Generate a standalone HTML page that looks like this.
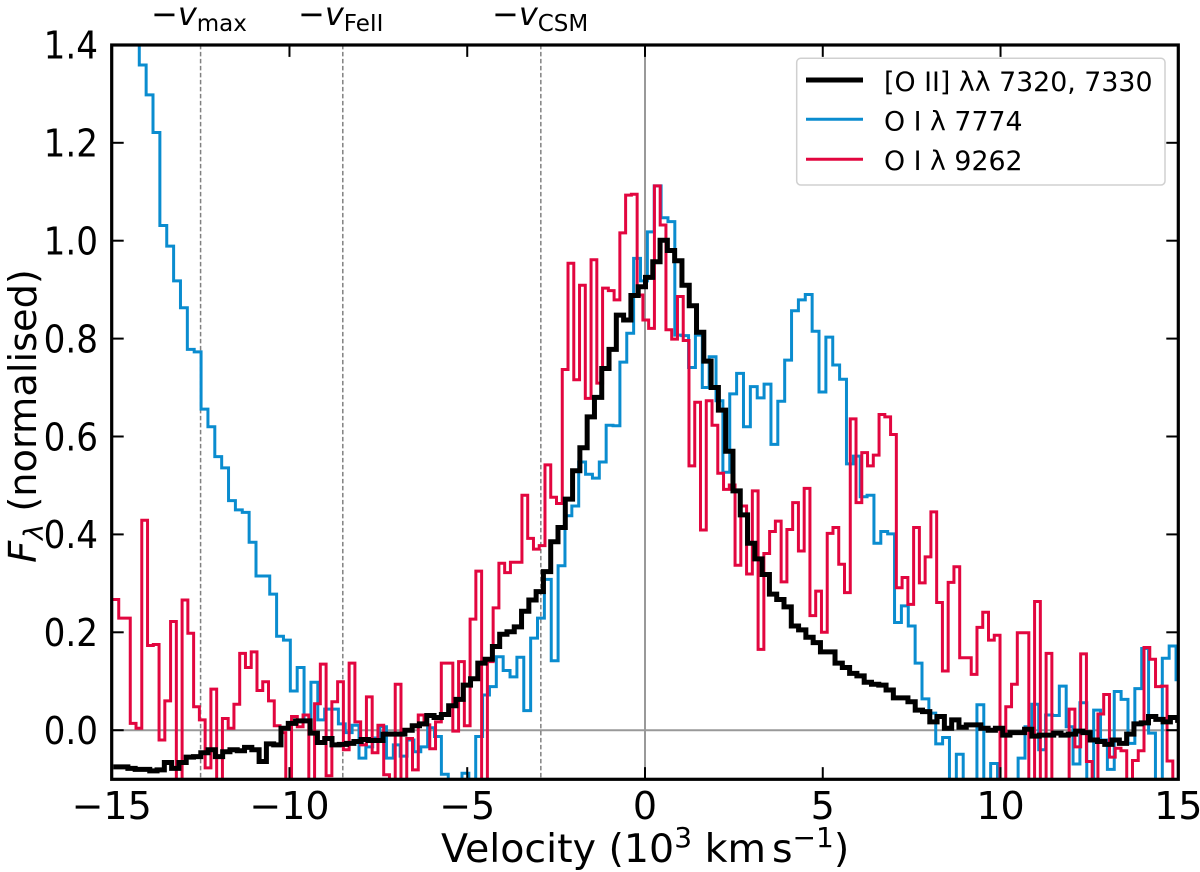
<!DOCTYPE html>
<html lang="en">
<head>
<meta charset="utf-8">
<title>Normalised oxygen line profiles</title>
<style>
html,body{margin:0;padding:0;background:#fff;}
svg{display:block;}
text{font-family:"DejaVu Sans","Liberation Sans",sans-serif;fill:#000;}
</style>
</head>
<body>
<svg id="chart" xmlns="http://www.w3.org/2000/svg" width="1200" height="872" viewBox="0 0 1200 872">
  <defs><clipPath id="plot-clip"><rect x="111.7" y="45" width="1066.6" height="734.3"/></clipPath></defs>
  <rect x="0" y="0" width="1200" height="872" fill="#fff"/>
  <g id="references" clip-path="url(#plot-clip)"></g>
  <g id="series" clip-path="url(#plot-clip)"></g>
  <g id="ticks"></g>
  <rect x="111.7" y="45" width="1066.6" height="734.3" fill="none" stroke="#000" stroke-width="3.2"/>
  <g id="tick-labels" font-size="38"></g>

  <text x="441" y="862" font-size="39.5">Velocity (10<tspan font-size="28" dy="-15">3</tspan><tspan dy="15"> km</tspan><tspan dx="6">s</tspan><tspan font-size="28" dy="-15">−1</tspan><tspan dy="15">)</tspan></text>
  <text transform="translate(36,416) rotate(-90)" text-anchor="middle" font-size="38.3"><tspan font-style="italic">F</tspan><tspan font-style="italic" font-size="27" dy="7" dx="1">λ</tspan><tspan dy="-7"> (normalised)</tspan></text>

  <text x="151" y="25" font-size="32">−<tspan font-style="italic">v</tspan><tspan font-size="23" dy="6">max</tspan></text>
  <text x="298" y="25" font-size="32">−<tspan font-style="italic">v</tspan><tspan font-size="23" dy="6">FeII</tspan></text>
  <text x="492" y="25" font-size="32">−<tspan font-style="italic">v</tspan><tspan font-size="23" dy="6">CSM</tspan></text>

  <g>
    <rect x="796.7" y="58.3" width="368.3" height="126.7" rx="4" ry="4" fill="#fff" fill-opacity="0.8" stroke="#d0d0d0" stroke-width="1.5"/>
    <line x1="806" x2="863" y1="80" y2="80" stroke="#000" stroke-width="5"/>
    <text x="884" y="91" font-size="26.8">[O II] λλ 7320, 7330</text>
    <line x1="806" x2="863" y1="119.3" y2="119.3" stroke="#0a8ccf" stroke-width="3"/>
    <text x="884" y="130.5" font-size="26.8">O I λ 7774</text>
    <line x1="806" x2="863" y1="159.3" y2="159.3" stroke="#e2063f" stroke-width="3"/>
    <text x="884" y="170" font-size="26.8">O I λ 9262</text>
  </g>
</svg>
<script>
const xTicks = [-15, -10, -5, 0, 5, 10, 15];
const xTickLabels = ['−15', '−10', '−5', '0', '5', '10', '15'];
const yTicks = [0, 0.2, 0.4, 0.6, 0.8, 1.0, 1.2, 1.4];
const yTickLabels = ['0.0', '0.2', '0.4', '0.6', '0.8', '1.0', '1.2', '1.4'];
const referenceVelocities = [-12.5, -8.5, -2.93];

const binStartBlack = -14.955;
const binWidthBlack = 0.20505;
const binStartBlue = -14.997;
const binWidthBlue = 0.19312;
const binStartRed = -14.964;
const binWidthRed = 0.16201;

const fluxOII = [
-.075,-.075,-.078,-.08,-.08,-.083,-.081,-.066,-.078,-.066,-.055,-.054,-.046,-.04,-.054,-.044,-.04,-.042,-.035,-.04,
-.064,-.028,-.03,.004,.014,.019,.019,-.006,-.025,-.017,-.03,-.029,-.027,-.023,-.019,-.021,-.021,-.008,-.008,-.008,
0,.009,.013,.03,.026,.032,.05,.063,.092,.105,.137,.145,.171,.196,.201,.211,.243,.266,.283,.324,
.385,.414,.472,.53,.577,.64,.68,.739,.778,.848,.838,.888,.906,.925,.957,1.001,.98,.959,.909,.867,
.813,.754,.70,.654,.57,.489,.44,.382,.35,.318,.278,.267,.252,.213,.205,.19,.179,.16,.16,.137,
.128,.116,.111,.098,.094,.092,.082,.066,.066,.058,.041,.038,.017,.028,.004,.021,.006,.011,.011,.004,
0,.004,-.01,-.005,-.005,.002,-.012,-.01,-.01,-.006,-.01,-.008,-.002,-.005,-.02,-.023,-.029,-.02,-.027,-.008,
.013,.015,.028,.022,.017,.026,.02
];

const fluxOI7774 = [
1.7,1.6,1.5,1.45,1.359,1.298,1.221,1.031,.989,.918,.863,.778,.773,.656,.62,.559,.536,.469,.45,.445,
.384,.315,.315,.278,.192,.184,.08,.128,.02,.098,.021,.043,.043,.013,-.005,.01,-.057,-.034,-.016,.007,
-.057,-.03,-.053,-.02,-.044,-.034,.005,-.013,-.09,-.12,-.12,-.088,-.12,-.013,.072,.089,.15,.122,.109,.149,
.04,.188,.229,.308,.142,.336,.438,.458,.548,.523,.515,.548,.623,.622,.752,.811,.964,.918,1.018,1.112,
1.047,1.039,.807,.806,.741,.807,.70,.763,.673,.527,.687,.729,.62,.702,.679,.707,.584,.672,.756,.857,
.879,.89,.815,.691,.803,.746,.717,.544,.56,.477,.48,.382,.406,.401,.22,.254,.213,.137,.064,.035,
-.028,-.015,-.12,-.049,-.12,-.12,.052,-.12,-.068,-.12,-.12,-.12,-.057,.007,.053,-.04,.031,.03,.09,.007,
-.069,.056,-.12,.041,-.02,-.08,.079,.063,-.027,.085,.167,-.006,-.12,.147,.172,.103
];

const fluxOI9262 = [
.267,.229,.229,.014,.004,.429,.173,.175,-.02,.06,.222,-.12,.266,.198,.048,.021,-.077,.084,-.12,.024,
.004,.053,.157,.128,.16,.081,.099,.06,.009,-.005,-.12,.028,.007,.031,-.12,.054,.135,-.093,.058,.099,
-.04,.137,.017,-.03,.068,-.046,.01,-.091,-.11,.094,-.12,-.017,-.081,.031,.011,-.038,.017,.137,.137,-.002,
.14,.009,.227,.325,-.12,.14,.25,.341,.322,.343,.343,.48,.392,.37,.377,.542,.476,.463,.737,.954,
.716,.909,.678,.961,.709,.903,.898,.879,1.016,1.093,1.095,.889,.838,.821,1.112,1.032,.818,.799,.886,.796,
.54,.67,.409,.673,.623,.525,.492,.501,.337,.458,.319,.489,.165,.361,.406,.427,.303,.41,.465,.366,
.494,.234,.284,.2,.402,.414,.339,.281,.636,.465,.567,.54,.562,.645,.64,.604,.291,.312,.257,.414,
.301,.354,.446,.261,.121,.302,.334,.148,.148,.114,.21,.241,.184,.194,-.12,.048,.094,.199,.199,-.12,
.263,-.12,.157,-.12,-.12,-.12,.043,-.034,.156,-.064,-.12,.033,.073,-.055,-.037,-.042,-.12,-.062,-.042,.169,
.145,.089,.09,-.063,-.12
];

const SVG_NS = 'http://www.w3.org/2000/svg';
function xScale(v) { return 645 + v * 35.553; }
function yScale(f) { return 730.2 - f * 489.5; }

function make(tag, attrs, parent) {
  const el = document.createElementNS(SVG_NS, tag);
  Object.keys(attrs).forEach(function (k) { el.setAttribute(k, attrs[k]); });
  parent.appendChild(el);
  return el;
}

function stepPath(values, start, width) {
  let d = '';
  values.forEach(function (val, i) {
    const x0 = xScale(start + i * width).toFixed(2);
    const x1 = xScale(start + (i + 1) * width).toFixed(2);
    const y = yScale(val).toFixed(2);
    d += (i === 0 ? 'M' : 'L') + x0 + ' ' + y + 'L' + x1 + ' ' + y;
  });
  return d;
}

const refGroup = document.getElementById('references');
const zeroH = make('line', {x1: xScale(-15), x2: xScale(15), y1: yScale(0), y2: yScale(0), stroke: '#999', 'stroke-width': 2}, refGroup);


const zeroV = make('line', {x1: xScale(0), x2: xScale(0), y1: yScale(1.4), y2: yScale(-0.1), stroke: '#999', 'stroke-width': 2}, refGroup);


referenceVelocities.forEach(function (v) {
  const l = make('line', {x1: xScale(v), x2: xScale(v), y1: yScale(1.4), y2: yScale(-0.1), stroke: '#808080', 'stroke-width': 1.5, 'stroke-dasharray': '4.5 2.5'}, refGroup);
  
  
});

const seriesGroup = document.getElementById('series');
const pathBlue = make('path', {d: stepPath(fluxOI7774, binStartBlue, binWidthBlue), fill: 'none', stroke: '#0a8ccf', 'stroke-width': 3, 'stroke-linejoin': 'miter'}, seriesGroup);


const pathRed = make('path', {d: stepPath(fluxOI9262, binStartRed, binWidthRed), fill: 'none', stroke: '#e2063f', 'stroke-width': 3, 'stroke-linejoin': 'miter'}, seriesGroup);


const pathBlack = make('path', {d: stepPath(fluxOII, binStartBlack, binWidthBlack), fill: 'none', stroke: '#000', 'stroke-width': 5, 'stroke-linejoin': 'miter'}, seriesGroup);



const tickGroup = document.getElementById('ticks');
const labelGroup = document.getElementById('tick-labels');
const tickLen = 12;
const yTop = yScale(1.4), yBottom = yScale(-0.1), xLeft = xScale(-15), xRight = xScale(15);

xTicks.forEach(function (v, i) {
  const x = xScale(v);
  const t1 = make('line', {x1: x, x2: x, y1: yBottom, y2: yBottom - tickLen, stroke: '#000', 'stroke-width': 2}, tickGroup);
  
  
  const t2 = make('line', {x1: x, x2: x, y1: yTop, y2: yTop + tickLen, stroke: '#000', 'stroke-width': 2}, tickGroup);
  
  
  const lab = make('text', {x: x, y: 819, 'text-anchor': 'middle'}, labelGroup);
  
  
  lab.textContent = xTickLabels[i];
});

yTicks.forEach(function (f, i) {
  const y = yScale(f);
  const t1 = make('line', {x1: xLeft, x2: xLeft + tickLen, y1: y, y2: y, stroke: '#000', 'stroke-width': 2}, tickGroup);
  
  
  const t2 = make('line', {x1: xRight, x2: xRight - tickLen, y1: y, y2: y, stroke: '#000', 'stroke-width': 2}, tickGroup);
  
  
  const lab = make('text', {transform: 'translate(98,' + (y + 13.8) + ') scale(0.9,1)', 'text-anchor': 'end'}, labelGroup);
  
  
  lab.textContent = yTickLabels[i];
});
</script>
</body>
</html>
